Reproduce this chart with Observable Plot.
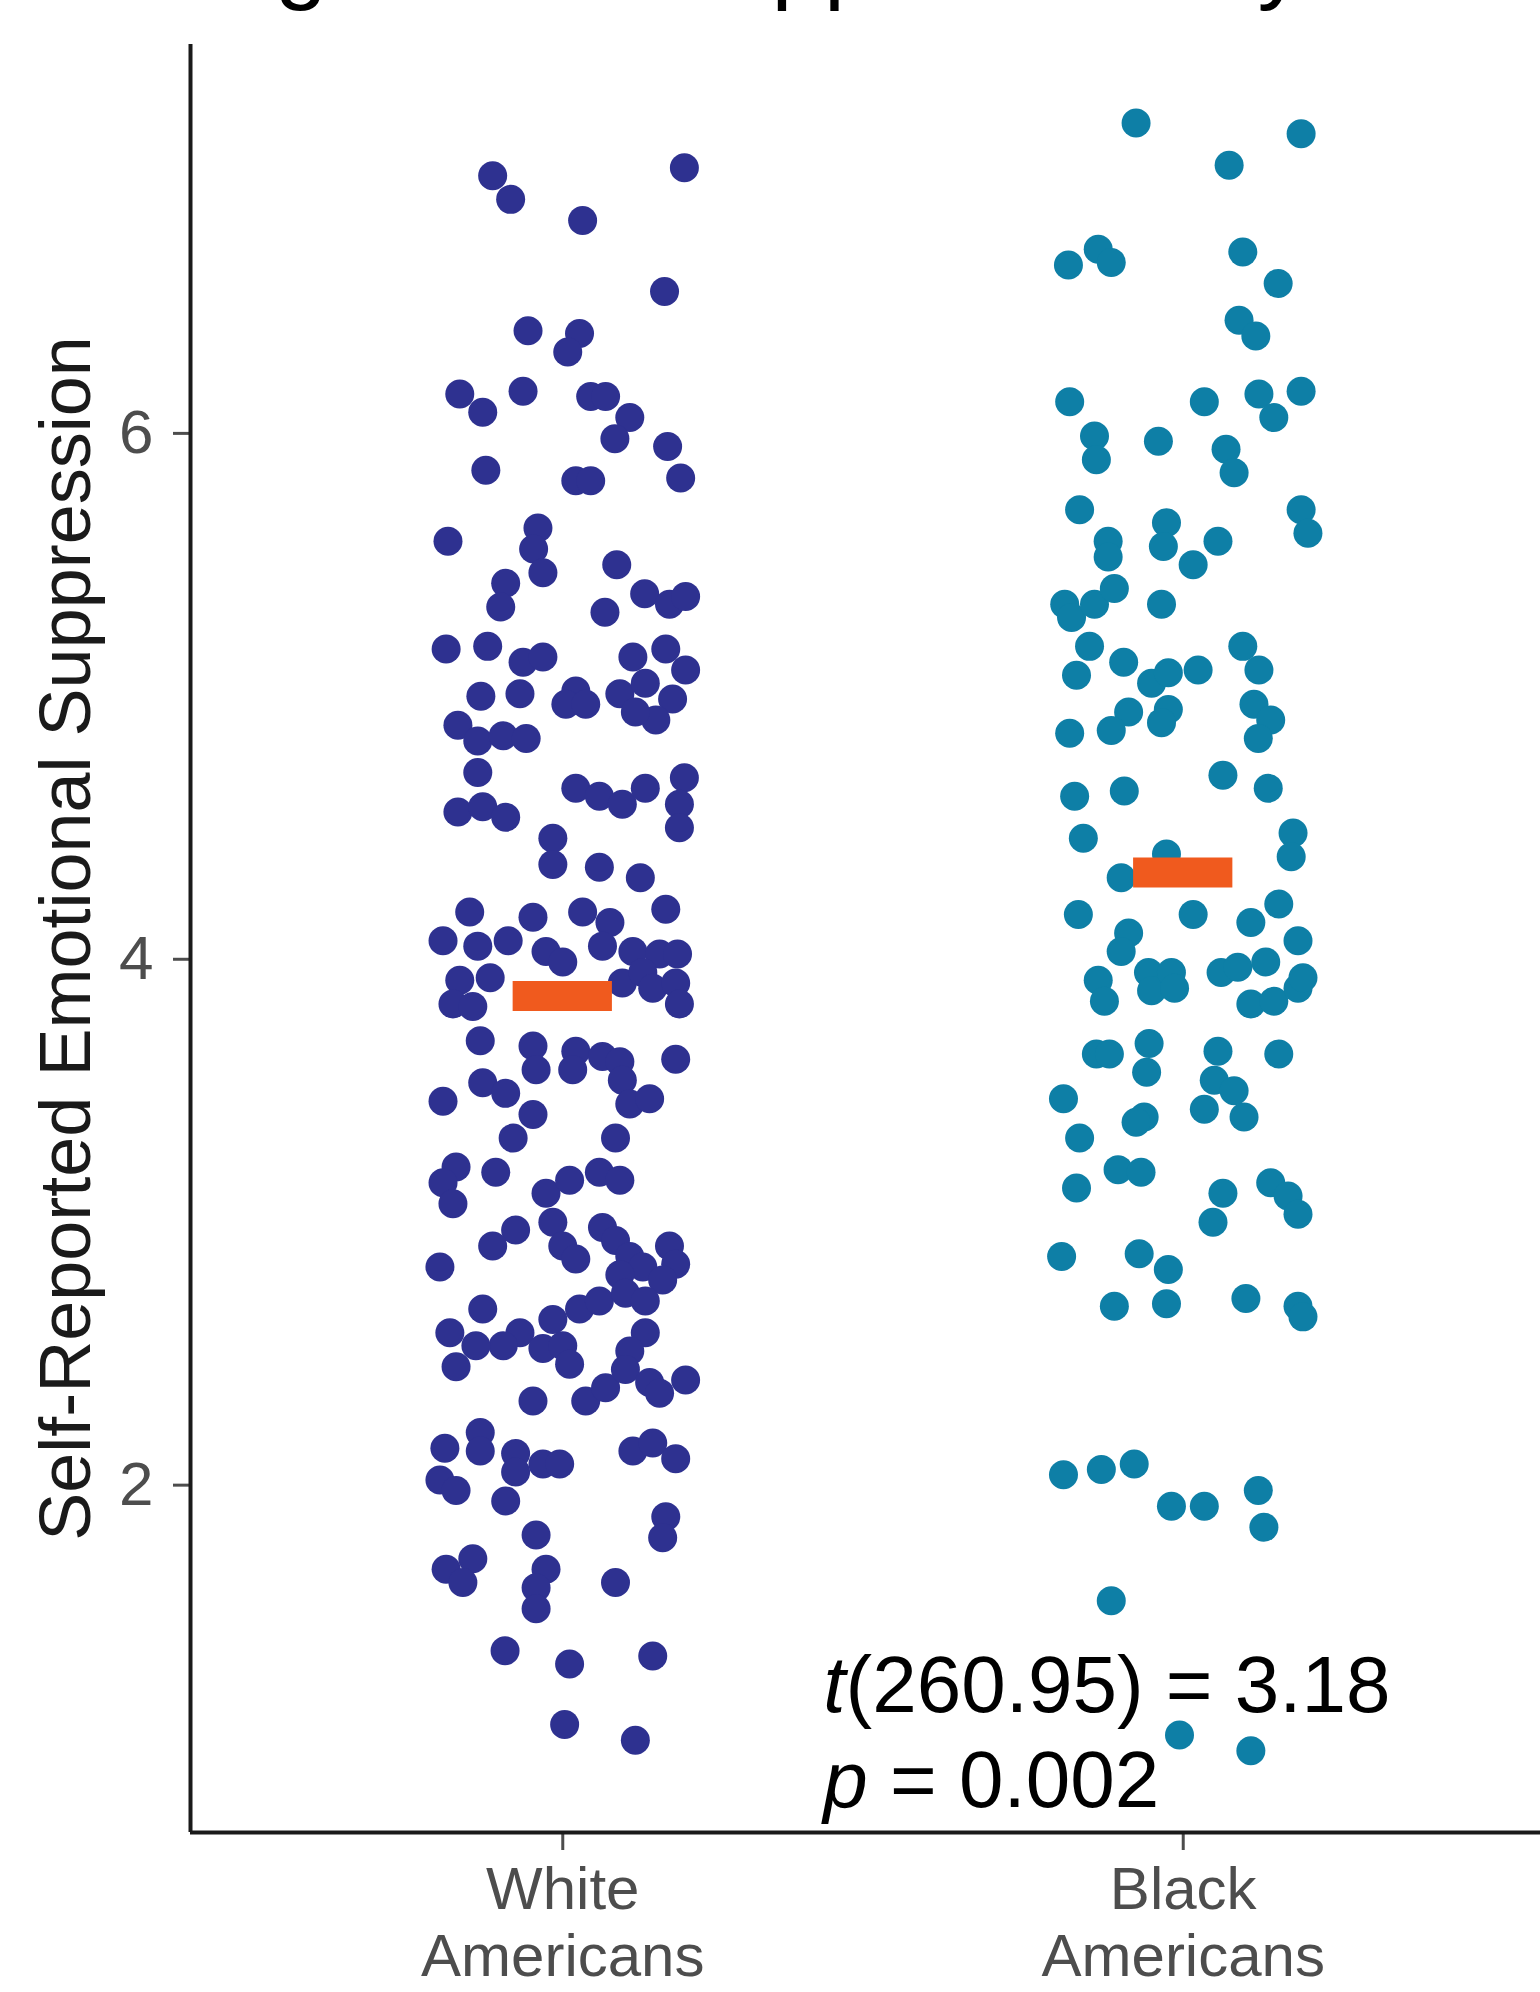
<!DOCTYPE html>
<html>
<head>
<meta charset="utf-8">
<script src="https://cdn.jsdelivr.net/npm/d3@7"></script>
<script src="https://cdn.jsdelivr.net/npm/@observablehq/plot@0.6"></script>
<style>
  html, body { margin: 0; padding: 0; background: #fff; overflow: hidden; }
  #wrap { position: relative; width: 1540px; height: 1992px; overflow: hidden; }
  #title { position: absolute; left: -216px; top: -88px; font-family: "Liberation Sans", Arial, sans-serif;
           font-size: 94px; line-height: 94px; white-space: nowrap; color: #000; }
  #chart { position: absolute; left: 0; top: 0; }
</style>
</head>
<body>
<div id="wrap">
  <div id="chart"></div>
  <div id="title">Emotion Regulation: Suppression by Race</div>
</div>
<script>
// ---- Data ----
const groupLabels = ["White\nAmericans", "Black\nAmericans"];
const yTicks = [2, 4, 6];
const yLabel = "Self-Reported Emotional Suppression";
const groupMeans = [3.86, 4.33];
const statLines = ["t(260.95) = 3.18", "p = 0.002"];
const statY = [1.234, 0.873];
const statX = 1.42;

const whiteValues = [6.98,6.89,6.81,7.01,6.54,6.39,6.38,6.31,6.15,6.08,6.16,6.14,6.14,6.06,5.98,5.95,5.83,5.86,5.82,5.82,
5.59,5.64,5.56,5.47,5.43,5.34,5.50,5.32,5.39,5.35,5.38,5.18,5.19,5.13,5.15,5.00,5.01,5.02,4.97,4.97,
5.15,5.18,5.10,5.01,5.05,4.99,4.91,4.94,4.89,4.83,4.85,4.84,4.71,4.65,4.62,4.59,4.65,4.69,4.59,4.50,
4.56,4.58,4.54,4.46,4.36,4.35,4.31,
4.18,4.16,4.18,4.14,4.19,4.07,4.05,4.07,4.03,3.99,4.05,4.03,4.02,4.02,
3.92,3.93,3.83,3.82,3.91,3.95,3.89,3.91,3.83,3.69,3.67,3.58,3.65,3.58,3.63,3.61,3.54,3.45,3.62,3.46,
3.53,3.49,3.41,3.32,3.47,3.32,3.21,3.15,3.07,3.19,3.11,3.16,3.19,3.16,2.97,2.91,3.00,2.91,2.86,2.98,
2.93,2.87,2.83,2.80,2.91,2.84,2.78,2.83,
2.67,2.58,2.58,2.63,2.67,2.70,2.73,2.70,2.58,2.53,2.52,2.51,2.53,2.53,2.46,
2.45,2.32,2.32,2.37,2.44,2.39,2.35,2.40,2.14,2.20,2.13,2.02,1.98,2.12,2.05,2.08,2.08,1.94,2.13,2.16,
2.10,1.88,1.80,1.81,1.68,1.72,1.63,1.68,1.61,1.53,1.63,1.37,1.32,1.35,1.09,1.03];

const whiteJitter = [-0.113,-0.084,0.032,0.196,0.164,-0.056,0.027,0.008,-0.166,-0.129,-0.064,0.045,0.069,0.108,0.084,0.169,0.190,-0.124,0.021,0.045,
-0.185,-0.040,-0.047,-0.032,-0.092,-0.100,0.087,0.068,0.132,0.172,0.198,-0.188,-0.121,-0.064,-0.032,-0.132,-0.069,0.021,0.005,0.037,
0.113,0.166,0.198,0.092,0.133,0.177,0.150,0.117,-0.169,-0.137,-0.096,-0.059,-0.137,0.021,0.059,0.096,0.133,0.196,0.188,0.188,
-0.169,-0.129,-0.092,-0.016,-0.016,0.059,0.125,
-0.150,-0.048,0.032,0.076,0.166,-0.193,-0.137,-0.088,-0.027,0.000,0.064,0.113,0.156,0.185,
-0.166,-0.117,-0.177,-0.145,0.096,0.129,0.145,0.182,0.188,-0.133,-0.048,-0.043,0.021,0.016,0.064,0.092,0.096,0.108,0.182,-0.193,
-0.129,-0.092,-0.048,-0.080,0.140,0.085,-0.172,-0.193,-0.177,-0.108,-0.027,0.011,0.059,0.092,-0.076,-0.113,-0.016,0.000,0.021,0.064,
0.085,0.108,0.129,0.092,0.172,0.182,0.161,-0.198,
-0.129,-0.182,-0.069,-0.016,0.027,0.059,0.101,0.133,0.133,-0.096,-0.032,0.108,-0.140,0.000,0.011,
-0.172,-0.048,0.037,0.069,0.101,0.140,0.156,0.198,-0.190,-0.133,-0.133,-0.198,-0.172,-0.076,-0.076,-0.032,-0.005,-0.092,0.113,0.145,
0.182,0.166,0.161,-0.043,-0.188,-0.145,-0.161,-0.027,-0.043,-0.043,0.085,-0.093,0.011,0.145,0.003,0.117];

const blackValues = [7.18,7.14,7.02,6.64,6.70,6.65,6.69,6.57,6.43,6.37,6.12,6.12,6.15,6.06,6.16,5.99,5.90,5.97,5.94,5.85,
5.71,5.71,5.62,5.59,5.53,5.66,5.57,5.59,5.50,5.35,5.30,5.35,5.41,5.35,5.19,5.08,5.13,5.05,5.09,5.10,
4.95,4.90,4.94,4.87,4.86,5.19,5.10,4.97,4.91,4.84,4.70,4.65,4.62,4.64,4.46,4.48,4.39,4.31,4.40,4.17,
4.17,4.14,4.21,4.07,4.10,4.03,3.92,3.84,3.95,3.88,3.95,3.89,3.95,3.97,3.99,3.83,3.84,3.89,3.93,3.64,
3.64,3.68,3.57,3.65,3.64,3.47,3.40,3.38,3.54,3.50,3.43,3.40,3.32,3.20,3.19,3.13,3.11,3.00,3.15,3.10,
3.03,2.87,2.88,2.82,2.68,2.69,2.71,2.68,2.64,2.04,2.06,2.08,1.92,1.92,1.98,1.84,1.56,1.05,0.99];

const blackJitter = [-0.076,0.190,0.074,-0.185,-0.137,-0.116,0.096,0.153,0.090,0.117,-0.183,0.034,0.122,0.146,0.190,-0.143,-0.140,-0.040,0.069,0.082,
-0.167,0.190,0.201,-0.121,-0.121,-0.027,-0.032,0.056,0.016,-0.191,-0.180,-0.143,-0.111,-0.035,-0.151,-0.172,-0.096,-0.051,-0.024,0.024,
-0.024,-0.035,-0.088,-0.116,-0.183,0.096,0.122,0.114,0.141,0.121,0.064,0.137,-0.175,-0.095,-0.161,0.177,0.174,-0.100,-0.027,-0.169,
0.016,0.109,0.154,0.185,-0.088,-0.100,-0.137,-0.127,-0.056,-0.051,-0.019,-0.014,0.061,0.088,0.133,0.109,0.146,0.185,0.193,-0.140,
-0.119,-0.055,-0.059,0.056,0.154,-0.193,-0.063,-0.076,0.050,0.082,0.034,0.098,-0.167,-0.105,-0.068,-0.172,0.064,0.048,0.141,0.169,
0.185,-0.196,-0.071,-0.024,-0.111,-0.027,0.101,0.185,0.193,-0.193,-0.132,-0.079,-0.019,0.034,0.121,0.130,-0.116,-0.006,0.109];

// ---- Build tables for the library ----
const colors = ["#2e3190", "#0e7fa6"];
const points = [
  ...whiteValues.map((v, i) => ({group: 1, x: 1 + whiteJitter[i], value: v})),
  ...blackValues.map((v, i) => ({group: 2, x: 2 + blackJitter[i], value: v}))
];
const means = groupMeans.map((m, i) => ({group: i + 1, mean: m}));
const stats = statLines.map((s, i) => ({text: s, y: statY[i]}));
const barHalf = 0.08;

const plot = Plot.plot({
  width: 1540,
  height: 1992,
  marginTop: 44,
  marginBottom: 160,
  marginLeft: 190,
  marginRight: 0,
  style: {fontFamily: "'Liberation Sans', Arial, sans-serif", background: "transparent"},
  x: {domain: [0.4, 2.6], range: [190, 1555]},
  y: {domain: [0.679, 7.479]},
  marks: [
    Plot.dot(points, {x: "x", y: "value", r: 14.5, fill: d => colors[d.group - 1], stroke: "none"}),
    Plot.ruleY(means, {y: "mean", x1: d => d.group - barHalf, x2: d => d.group + barHalf, stroke: "#f05a1e", strokeWidth: 30}),
    Plot.axisY({ticks: yTicks, tickFormat: d => String(d), tickSize: 17, tickPadding: 20, fontSize: 62,
                color: "#4d4d4d", strokeWidth: 3, label: null}),
    Plot.axisX({ticks: [1, 2], tickFormat: d => groupLabels[d - 1], tickSize: 18, tickPadding: 11, fontSize: 60,
                lineHeight: 1.117, color: "#4d4d4d", strokeWidth: 3, label: null}),
    Plot.ruleX([0.4], {stroke: "#1a1a1a", strokeWidth: 4}),
    Plot.ruleY([0.679], {stroke: "#1a1a1a", strokeWidth: 4}),
    Plot.text(stats, {x: statX, y: "y", text: "text", textAnchor: "start", fontSize: 80, fill: "#000"}),
    Plot.text([yLabel], {frameAnchor: "left", textAnchor: "middle", rotate: -90, dx: -124, fontSize: 72, fill: "#1a1a1a"})
  ]
});

// italicise the statistic symbol (first character) of each annotation line
plot.querySelectorAll("text").forEach(el => {
  const s = el.textContent;
  if (!statLines.includes(s)) return;
  while (el.firstChild) el.removeChild(el.firstChild);
  const a = document.createElementNS("http://www.w3.org/2000/svg", "tspan");
  a.setAttribute("font-style", "italic");
  a.textContent = s[0];
  const b = document.createElementNS("http://www.w3.org/2000/svg", "tspan");
  b.textContent = s.slice(1);
  el.appendChild(a);
  el.appendChild(b);
});

document.getElementById("chart").appendChild(plot);
</script>
</body>
</html>
